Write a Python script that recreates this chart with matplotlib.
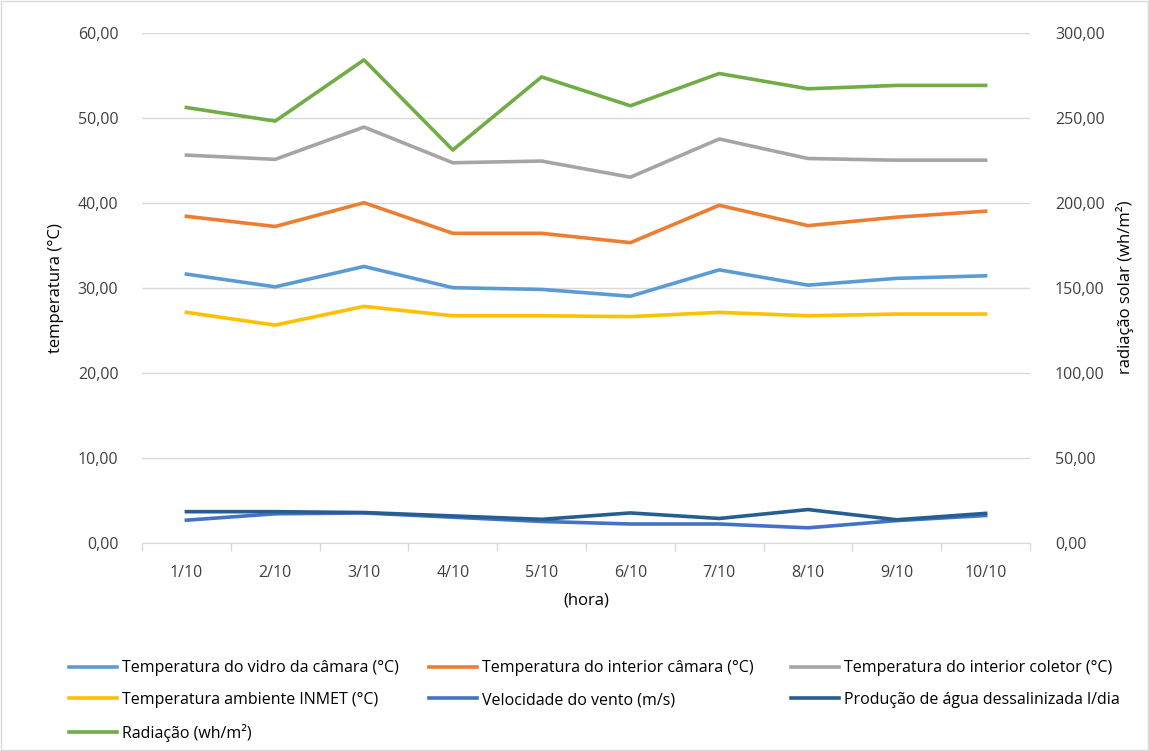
import numpy as np
import matplotlib
matplotlib.use('Agg')
import matplotlib.pyplot as plt
from matplotlib.patches import Rectangle

plt.rcParams['font.family'] = ['Open Sans', 'DejaVu Sans']

# categories (days)
dias = ['1/10', '2/10', '3/10', '4/10', '5/10', '6/10', '7/10', '8/10', '9/10', '10/10']

# series on the left axis (temperatura)
t_vidro = [31.6, 30.1, 32.5, 30.0, 29.8, 29.0, 32.1, 30.3, 31.1, 31.4]
t_int_camara = [38.4, 37.2, 40.0, 36.4, 36.4, 35.3, 39.7, 37.3, 38.3, 39.0]
t_int_coletor = [45.6, 45.1, 48.9, 44.7, 44.9, 43.0, 47.5, 45.2, 45.0, 45.0]
t_ambiente = [27.1, 25.6, 27.8, 26.7, 26.7, 26.6, 27.1, 26.7, 26.9, 26.9]
vento = [2.65, 3.4, 3.5, 3.0, 2.5, 2.2, 2.2, 1.75, 2.6, 3.2]
agua = [3.65, 3.65, 3.55, 3.15, 2.75, 3.5, 2.85, 3.9, 2.7, 3.45]

# series on the right axis (radiação)
radiacao = [256, 248, 284, 231, 274, 257, 276, 267, 269, 269]

left_ticks = np.arange(0, 61, 10)
right_ticks = np.arange(0, 301, 50)

fig = plt.figure(figsize=(11.49, 7.51), dpi=100)
fig.patches.append(Rectangle((0.001, 0.001), 0.998, 0.998, transform=fig.transFigure,
                             fill=False, edgecolor='#d9d9d9', lw=1))
ax = fig.add_axes([142 / 1149, 208.3 / 751, 888 / 1149, 510 / 751])
ax2 = ax.twinx()

x = np.arange(len(dias))
lw = 2.6
l1, = ax.plot(x, t_vidro, color='#5B9BD5', lw=lw, label='Temperatura do vidro da câmara (°C)')
l2, = ax.plot(x, t_int_camara, color='#ED7D31', lw=lw, label='Temperatura do interior câmara (°C)')
l3, = ax.plot(x, t_int_coletor, color='#A5A5A5', lw=lw, label='Temperatura do interior coletor (°C)')
l4, = ax.plot(x, t_ambiente, color='#FFC000', lw=lw, label='Temperatura ambiente INMET (°C)')
l5, = ax.plot(x, vento, color='#4472C4', lw=lw, label='Velocidade do vento (m/s)')
l6, = ax.plot(x, agua, color='#255E91', lw=lw, label='Produção de água dessalinizada l/dia')
l7, = ax2.plot(x, radiacao, color='#70AD47', lw=lw, label='Radiação (wh/m²)')

ax.set_xlim(-0.5, len(dias) - 0.5)
ax.set_ylim(0, 60)
ax2.set_ylim(0, 300)
ax.set_yticks(left_ticks)
ax.set_yticklabels([f'{v:.2f}'.replace('.', ',') for v in left_ticks])
ax2.set_yticks(right_ticks)
ax2.set_yticklabels([f'{v:.2f}'.replace('.', ',') for v in right_ticks])

ax.set_xticks(x)
ax.set_xticklabels(dias)
ax.set_xticks(np.arange(-0.5, len(dias)), minor=True)
ax.tick_params(axis='x', which='major', length=0, pad=16, labelsize=11.5, colors='#404040')
ax.tick_params(axis='x', which='minor', length=6, width=1, color='#d9d9d9')
ax.tick_params(axis='y', length=0, pad=17, labelsize=11.5, colors='#404040')
ax2.tick_params(axis='y', length=0, pad=18, labelsize=11.5, colors='#404040')

ax.grid(axis='y', color='#d9d9d9', lw=1)
ax.set_axisbelow(True)
for a in (ax, ax2):
    for s in a.spines.values():
        s.set_visible(False)
ax.spines['bottom'].set_visible(True)
ax.spines['bottom'].set_color('#d9d9d9')

ax.set_xlabel('(hora)', fontsize=12, color='#000000', labelpad=8)
ax.set_ylabel('temperatura (°C)', fontsize=12, color='#000000', labelpad=10)
ax2.set_ylabel('radiação solar (wh/m²)', fontsize=12, color='#000000', labelpad=8)

# legend: three columns placed where the reference has them, filled row by row
columns = [[l1, l4, l7], [l2, l5], [l3, l6]]
col_x = [63, 423, 785]
for hs, cx in zip(columns, col_x):
    fig.legend(handles=hs, labels=[h.get_label() for h in hs],
               loc='upper left', bbox_to_anchor=(cx / 1149, 1 - 654 / 751), frameon=False,
               fontsize=11.5, handlelength=3.0, handletextpad=0.3, labelspacing=0.98,
               borderaxespad=0)

fig.savefig('out.png', dpi=100)
